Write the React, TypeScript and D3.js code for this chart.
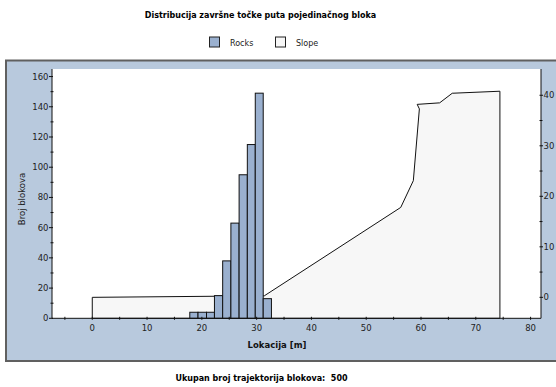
import React from "react";
import * as d3 from "d3";

const binEdges = [17.8, 19.3, 20.85, 22.3, 23.8, 25.3, 26.8, 28.3, 29.75, 31.2, 32.7];
const rockCounts = [4, 4, 4, 15, 38, 63, 95, 115, 149, 13];
const slopeX = [0, 31.4, 56.3, 58.6, 59.7, 59.3, 63.4, 65.7, 74.4];
const slopeElev = [0, 0.3, 17.8, 23.1, 37.3, 38.2, 38.5, 40.4, 40.8];
const xTicks = [0, 10, 20, 30, 40, 50, 60, 70, 80];
const xMinor = [-5, 5, 15, 25, 35, 45, 55, 65, 75];
const yTicks = [0, 20, 40, 60, 80, 100, 120, 140, 160];
const yMinor = [10, 30, 50, 70, 90, 110, 130, 150];
const rTicks = [0, 10, 20, 30, 40];
const rMinor = [5, 15, 25, 35];

const FONT = "'DejaVu Sans', Verdana, sans-serif";
const W = 556, H = 387;
const L = 52, R = 541, T = 69, B = 318.3;

export default function App() {
  const x = d3.scaleLinear().domain([-7.35, 81.9]).range([L, R]);
  const y = d3.scaleLinear().domain([0, 165]).range([B, T]);
  const yr = d3.scaleLinear().domain([-4.15, 45.2]).range([B, T]);

  const slopePts: [number, number][] = [
    [slopeX[0], yr.domain()[0]],
    ...slopeX.map((v, i) => [v, slopeElev[i]] as [number, number]),
    [slopeX[slopeX.length - 1], yr.domain()[0]],
  ];
  const slopeLine = d3.line<[number, number]>().x(d => x(d[0])).y(d => yr(d[1]));
  const slopePath = slopeLine(slopePts) + "Z";

  return (
    <svg width={W} height={H} style={{ position: "absolute", left: 0, top: 0, fontFamily: FONT }}>
      <rect x={0} y={0} width={W} height={H} fill="#fff" />
      <text x={260.5} y={17.5} textAnchor="middle" fontSize={8} fontWeight="bold" fill="#000">
        Distribucija završne točke puta pojedinačnog bloka
      </text>
      {/* legend */}
      <rect x={209.5} y={37} width={10} height={10} fill="#9ab0cf" stroke="#222" strokeWidth={1} />
      <text x={230} y={45.5} fontSize={8} fill="#222">Rocks</text>
      <rect x={275.5} y={37} width={10} height={10} fill="#f7f7f7" stroke="#222" strokeWidth={1} />
      <text x={296} y={45.5} fontSize={8} fill="#222">Slope</text>

      {/* panel */}
      <rect x={6} y={60.5} width={560} height={300.5} fill="#b8c9dd" stroke="#606060" strokeWidth={2} />
      <rect x={L} y={T} width={R - L} height={B - T} fill="#fff" />

      <path d={slopePath} fill="#f7f7f7" stroke="#111" strokeWidth={1} />

      {rockCounts.map((c, i) => (
        <rect key={i} x={x(binEdges[i])} y={y(c)} width={x(binEdges[i + 1]) - x(binEdges[i])}
          height={B - y(c)} fill="#9ab0cf" stroke="#111" strokeWidth={1} />
      ))}

      {/* axes */}
      <line x1={L} x2={L} y1={T} y2={B} stroke="#111" />
      <line x1={L} x2={R} y1={B} y2={B} stroke="#111" />
      <line x1={R} x2={R} y1={T} y2={B} stroke="#111" />

      {yTicks.map(t => (
        <g key={"y" + t}>
          <line x1={L - 3} x2={L + 1} y1={y(t)} y2={y(t)} stroke="#111" />
          <text x={L - 3.5} y={y(t) + 3} textAnchor="end" fontSize={8.5} fill="#222">{t}</text>
        </g>
      ))}
      {yMinor.map(t => (
        <line key={"ym" + t} x1={L - 1.5} x2={L + 1.5} y1={y(t)} y2={y(t)} stroke="#111" />
      ))}
      {xTicks.map(t => (
        <g key={"x" + t}>
          <line x1={x(t)} x2={x(t)} y1={B - 1.5} y2={B + 1.5} stroke="#111" />
          <text x={x(t)} y={B + 13} textAnchor="middle" fontSize={8.5} fill="#222">{t}</text>
        </g>
      ))}
      {xMinor.map(t => (
        <line key={"xm" + t} x1={x(t)} x2={x(t)} y1={B - 1.5} y2={B + 1.5} stroke="#111" />
      ))}
      {rTicks.map(t => (
        <g key={"r" + t}>
          <line x1={R - 1.5} x2={R + 2} y1={yr(t)} y2={yr(t)} stroke="#111" />
          <text x={R + 2.5} y={yr(t) + 3} textAnchor="start" fontSize={8.5} fill="#222">{t}</text>
        </g>
      ))}
      {rMinor.map(t => (
        <line key={"rm" + t} x1={R - 1.5} x2={R + 1.5} y1={yr(t)} y2={yr(t)} stroke="#111" />
      ))}

      <text x={277} y={348} textAnchor="middle" fontSize={8.5} fontWeight="bold" fill="#111">Lokacija [m]</text>
      <text transform={`translate(25,199) rotate(-90)`} textAnchor="middle" fontSize={8.5} fill="#222">Broj blokova</text>

      <text x={261.5} y={381} textAnchor="middle" fontSize={8} fontWeight="bold" fill="#000" style={{ whiteSpace: "pre" }}>
        {"Ukupan broj trajektorija blokova:  500"}
      </text>
    </svg>
  );
}
